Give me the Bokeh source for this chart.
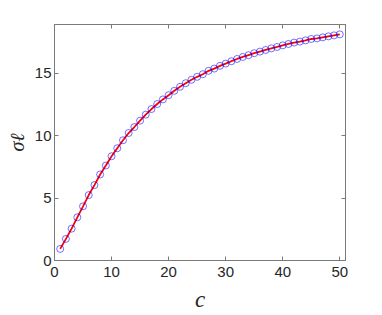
import numpy as np
from bokeh.plotting import figure
from bokeh.models import LinearAxis, Range1d, FixedTicker
from bokeh.embed import file_html
from bokeh.resources import INLINE

c_vals = list(range(1, 51))
sigma_vals = [0.93, 1.73, 2.55, 3.46, 4.34, 5.24, 6.04, 6.89, 7.61, 8.35,
              8.99, 9.63, 10.21, 10.69, 11.20, 11.68, 12.13, 12.53, 12.90, 13.24,
              13.59, 13.91, 14.20, 14.47, 14.71, 14.92, 15.19, 15.37, 15.59, 15.77,
              15.96, 16.14, 16.30, 16.44, 16.60, 16.73, 16.86, 16.99, 17.10, 17.23,
              17.34, 17.45, 17.53, 17.63, 17.74, 17.79, 17.87, 17.95, 18.03, 18.11]
fit_vals = sigma_vals
x_ticks = [0, 10, 20, 30, 40, 50]
y_ticks = [0, 5, 10, 15]

p = figure(width=370, height=314, output_backend="svg", toolbar_location=None,
           x_range=Range1d(0, 51), y_range=Range1d(0, 18.9),
           min_border_left=54, min_border_top=24, min_border_right=25, min_border_bottom=53)
p.grid.visible = False
p.outline_line_color = "#7a7a7a"
p.background_fill_color = "white"
p.border_fill_color = "white"

axis_color = "#7a7a7a"
for ax in p.xaxis + p.yaxis:
    ax.axis_line_color = axis_color
    ax.major_tick_line_color = axis_color
    ax.major_tick_in = 4
    ax.major_tick_out = 0
    ax.minor_tick_line_color = None
    ax.major_label_text_font = "Liberation Sans"
    ax.major_label_text_font_size = "15px"
    ax.major_label_text_color = "#262626"
p.xaxis.ticker = FixedTicker(ticks=x_ticks)
p.yaxis.ticker = FixedTicker(ticks=y_ticks)
p.xaxis.major_label_standoff = 6
p.yaxis.major_label_standoff = 3

p.xaxis.axis_label = "c"
p.xaxis.axis_label_text_font = "Liberation Serif"
p.xaxis.axis_label_text_font_style = "italic"
p.xaxis.axis_label_text_font_size = "23px"
p.xaxis.axis_label_text_color = "#262626"
p.xaxis.axis_label_standoff = 7

p.yaxis.axis_label = "σℓ"
p.yaxis.axis_label_text_font = "Liberation Serif"
p.yaxis.axis_label_text_font_style = "italic"
p.yaxis.axis_label_text_font_size = "20px"
p.yaxis.axis_label_text_color = "#262626"
p.yaxis.axis_label_standoff = 4

top = LinearAxis(ticker=FixedTicker(ticks=x_ticks))
right = LinearAxis(ticker=FixedTicker(ticks=y_ticks))
for ax in (top, right):
    ax.axis_line_color = axis_color
    ax.major_tick_line_color = axis_color
    ax.major_tick_in = 4
    ax.major_tick_out = 0
    ax.minor_tick_line_color = None
    ax.major_label_text_color = None
    ax.major_label_text_font_size = "1px"
    ax.major_label_standoff = 0
p.add_layout(top, "above")
p.add_layout(right, "right")

p.line(c_vals, fit_vals, line_color="red", line_width=1.8)
p.scatter(c_vals, sigma_vals, marker="circle", size=7, fill_color=None,
          line_color="blue", line_width=0.8, line_alpha=0.7)

open("out.html", "w").write(file_html(p, INLINE))
